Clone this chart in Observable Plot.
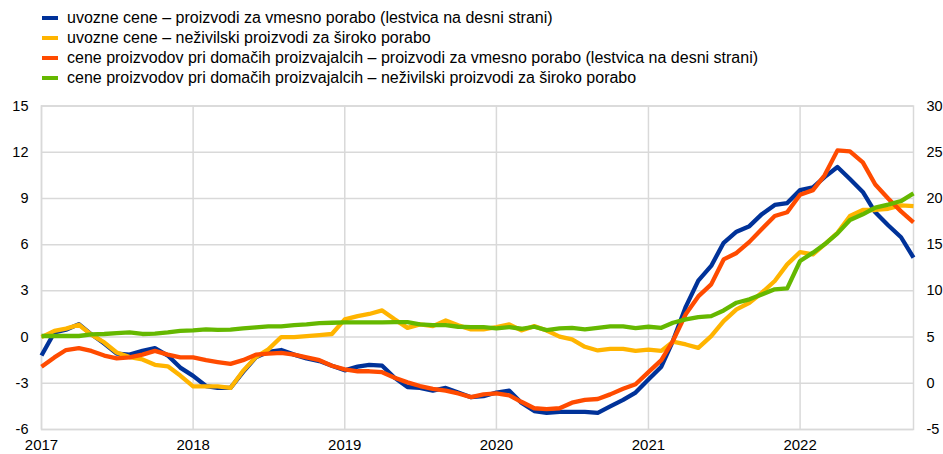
<!DOCTYPE html>
<html>
<head>
<meta charset="utf-8">
<script src="https://cdn.jsdelivr.net/npm/d3@7"></script>
<script src="https://cdn.jsdelivr.net/npm/@observablehq/plot@0.6"></script>
<style>
  html, body { margin: 0; padding: 0; background: #fff; }
  body { width: 943px; height: 454px; position: relative; font-family: Arial, "Liberation Sans", sans-serif; overflow: hidden; }
  #legend { position: absolute; left: 0; top: 0; width: 943px; height: 88px; }
  .row { position: absolute; left: 0; height: 20px; }
  .sw { position: absolute; left: 42px; width: 16px; height: 4px; top: 8px; }
  .lab { position: absolute; left: 67px; top: 0; line-height: 20px; font-size: 16px; color: #000; white-space: nowrap; }
  #chart { position: absolute; left: 0; top: 88px; }
</style>
</head>
<body>
<div id="legend"></div>
<div id="chart"></div>
<script>
// Series names (legend order)
const seriesNames = [
  "uvozne cene – proizvodi za vmesno porabo (lestvica na desni strani)",
  "uvozne cene – neživilski proizvodi za široko porabo",
  "cene proizvodov pri domačih proizvajalcih – proizvodi za vmesno porabo (lestvica na desni strani)",
  "cene proizvodov pri domačih proizvajalcih – neživilski proizvodi za široko porabo"
];
const seriesColors = ["#003299", "#FFB400", "#FF4B00", "#65B800"];

// Monthly values, Jan 2017 – Oct 2022
// blue: import prices, intermediate goods (right axis)
const importIntermediate = [
  3.0, 5.5, 5.8, 6.4, 5.3, 4.3, 3.2, 3.1, 3.5, 3.8, 3.0, 1.7,
  0.8, -0.3, -0.5, -0.5, 1.2, 2.8, 3.4, 3.6, 3.1, 2.7, 2.4, 1.9,
  1.4, 1.8, 2.0, 1.9, 0.6, -0.4, -0.5, -0.8, -0.5, -1.0, -1.5, -1.4,
  -1.0, -0.8, -2.1, -3.0, -3.2, -3.1, -3.1, -3.1, -3.2, -2.5, -1.8, -1.0,
  0.4, 1.8, 4.6, 8.3, 11.1, 12.7, 15.2, 16.4, 17.0, 18.3, 19.3, 19.5,
  20.9, 21.2, 22.3, 23.4, 22.1, 20.7, 18.5, 17.1, 15.8, 13.6
];
// yellow: import prices, non-food consumer goods (left axis)
const importConsumer = [
  0.0, 0.4, 0.55, 0.8, 0.15, -0.35, -1.0, -1.3, -1.45, -1.8, -1.9, -2.5,
  -3.2, -3.2, -3.2, -3.3, -2.2, -1.3, -0.8, 0.0, 0.0, 0.06, 0.13, 0.2,
  1.15, 1.36, 1.5, 1.73, 1.15, 0.6, 0.82, 0.71, 1.08, 0.76, 0.5, 0.5,
  0.65, 0.82, 0.43, 0.71, 0.43, 0.03, -0.15, -0.63, -0.87, -0.76, -0.76, -0.9,
  -0.82, -0.9, -0.3, -0.48, -0.7, 0.06, 1.04, 1.8, 2.23, 2.88, 3.64, 4.72,
  5.52, 5.37, 6.02, 6.77, 7.86, 8.25, 8.25, 8.33, 8.55, 8.5
];
// orange: producer prices, intermediate goods (right axis)
const ppiIntermediate = [
  1.8, 2.8, 3.6, 3.8, 3.5, 3.0, 2.7, 2.8, 3.1, 3.5, 3.1, 2.8,
  2.8, 2.5, 2.3, 2.1, 2.5, 3.1, 3.2, 3.3, 3.1, 2.8, 2.5, 1.9,
  1.5, 1.3, 1.3, 1.2, 0.6, 0.1, -0.3, -0.6, -0.8, -1.1, -1.5, -1.2,
  -1.1, -1.3, -2.0, -2.7, -2.8, -2.7, -2.1, -1.8, -1.7, -1.2, -0.6, -0.1,
  1.2, 2.5, 4.6, 7.5, 9.4, 10.7, 13.4, 14.1, 15.3, 16.7, 18.1, 18.5,
  20.4, 20.9, 22.5, 25.2, 25.1, 23.9, 21.5, 20.0, 18.6, 17.4
];
// green: producer prices, non-food consumer goods (left axis)
const ppiConsumer = [
  0.07, 0.07, 0.07, 0.07, 0.17, 0.2, 0.25, 0.3, 0.2, 0.22, 0.3, 0.4,
  0.43, 0.5, 0.47, 0.48, 0.56, 0.63, 0.7, 0.7, 0.78, 0.82, 0.9, 0.93,
  0.95, 0.95, 0.95, 0.96, 0.97, 0.97, 0.82, 0.78, 0.78, 0.67, 0.65, 0.65,
  0.56, 0.65, 0.54, 0.67, 0.45, 0.56, 0.6, 0.5, 0.6, 0.7, 0.7, 0.58,
  0.67, 0.6, 0.93, 1.15, 1.3, 1.36, 1.73, 2.23, 2.45, 2.77, 3.1, 3.16,
  4.94, 5.48, 6.02, 6.73, 7.6, 7.97, 8.4, 8.6, 8.83, 9.33
];

const leftTicks = [-6, -3, 0, 3, 6, 9, 12, 15];
const rightTicks = [-5, 0, 5, 10, 15, 20, 25, 30];
const yearTicks = ["2017", "2018", "2019", "2020", "2021", "2022"];

// right axis (-5..30) aligned with left axis (-6..15)
const toLeft = r => (r - 5) * 3 / 5;

const months = d3.utcMonth.range(new Date(Date.UTC(2017, 0, 1)), new Date(Date.UTC(2022, 10, 1)));
const yearDates = yearTicks.map(y => new Date(Date.UTC(+y, 0, 1)));
const rightMap = new Map(rightTicks.map(r => [toLeft(r), String(r)]));

// legend
const legend = document.getElementById("legend");
seriesNames.forEach((name, i) => {
  const row = document.createElement("div");
  row.className = "row";
  row.style.top = (8 + i * 20) + "px";
  row.innerHTML = `<span class="sw" style="background:${seriesColors[i]}"></span><span class="lab">${name}</span>`;
  legend.appendChild(row);
});

const gridColor = "#d9d9d9";
const lineOpts = (color) => ({x: (d, i) => months[i], y: d => d, stroke: color, strokeWidth: 4.3, strokeLinejoin: "round", strokeLinecap: "butt"});

const chart = Plot.plot({
  width: 943,
  height: 366,
  marginTop: 17.5,
  marginBottom: 25,
  marginLeft: 41,
  marginRight: 30,
  style: {fontFamily: "Arial, 'Liberation Sans', sans-serif", fontSize: "14px", color: "#000", background: "#fff"},
  x: {type: "utc", domain: [months[0], months[months.length - 1]]},
  y: {domain: [-6, 15]},
  marks: [
    Plot.gridY(leftTicks, {stroke: gridColor, strokeOpacity: 1, strokeWidth: 1.5}),
    Plot.gridX(yearDates, {stroke: gridColor, strokeOpacity: 1, strokeWidth: 1.5}),
    Plot.frame({stroke: gridColor, strokeWidth: 1.5}),
    Plot.axisY(leftTicks, {anchor: "left", tickSize: 0, tickPadding: 13, tickFormat: d => String(d), label: null, fontSize: 14.5}),
    Plot.axisY(rightTicks.map(toLeft), {anchor: "right", tickSize: 0, tickPadding: 13, tickFormat: d => rightMap.get(d), label: null, fontSize: 14.5}),
    Plot.axisX(yearDates, {anchor: "bottom", tickSize: 0, tickPadding: 10, tickFormat: d => String(d.getUTCFullYear()), label: null, fontSize: 15}),
    Plot.line(importIntermediate.map(toLeft), lineOpts(seriesColors[0])),
    Plot.line(importConsumer, lineOpts(seriesColors[1])),
    Plot.line(ppiIntermediate.map(toLeft), lineOpts(seriesColors[2])),
    Plot.line(ppiConsumer, lineOpts(seriesColors[3]))
  ]
});
document.getElementById("chart").appendChild(chart);
</script>
</body>
</html>
